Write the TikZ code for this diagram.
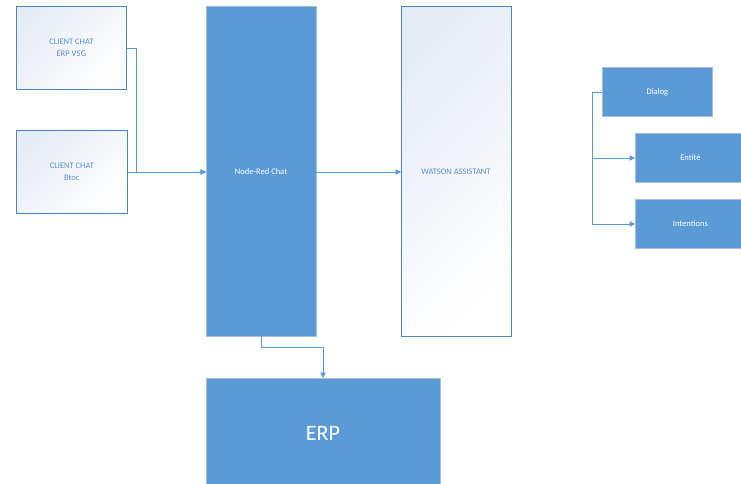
\documentclass[tikz,border=0pt]{standalone}
\usepackage{fontspec}
\setmainfont{Carlito}
\usetikzlibrary{arrows.meta,shadows}
\definecolor{bluefill}{HTML}{5B9BD5}
\definecolor{blueedge}{HTML}{A9BCD3}
\definecolor{lightedge}{HTML}{4A86C6}
\definecolor{lighttop}{HTML}{E6ECF6}
\definecolor{lighttext}{HTML}{5B8FCB}
\definecolor{wire}{HTML}{5B9BD5}
\tikzset{
  lightbox/.style={draw=lightedge, line width=0.7pt, top color=lighttop, bottom color=white, shading angle=45,
    anchor=north west, inner sep=0pt, align=center, text=lighttext, font=\fontsize{8.5}{12}\selectfont},
  darkbox/.style={draw=blueedge, line width=0.8pt, fill=bluefill, anchor=north west, inner sep=0pt,
    align=center, text=white, font=\fontsize{8.5}{12}\selectfont,
    drop shadow={shadow xshift=1pt, shadow yshift=-1pt, opacity=0.15}},
  wire/.style={draw=wire, line width=0.8pt},
  arr/.style={wire, -{Triangle[length=5.5pt,width=5.5pt]}},
}
\begin{document}
\begin{tikzpicture}[x=1pt,y=-1pt]
\useasboundingbox (0,0) rectangle (741,483);
\clip (0,0) rectangle (741,483);
\node[lightbox, minimum width=110pt, minimum height=83pt] (erpv) at (16,6) {CLIENT CHAT\\ERP V5G};
\node[lightbox, minimum width=111pt, minimum height=83pt] (btoc) at (16,130) {CLIENT CHAT\\Btoc};
\node[darkbox, minimum width=110pt, minimum height=330pt] (nr) at (206,6) {};
\node[lightbox, minimum width=110pt, minimum height=330pt] (wa) at (401,6) {};
\node[text=white, font=\fontsize{8.5}{12}\selectfont] at (261,172) {Node-Red Chat};
\node[text=lighttext, font=\fontsize{8.5}{12}\selectfont] at (456,172) {WATSON ASSISTANT};
\node[darkbox, minimum width=234pt, minimum height=130pt] (erp) at (206,378) {};
\node[text=white, font=\fontsize{22}{26}\selectfont] at (323,433) {ERP};
\node[darkbox, minimum width=110pt, minimum height=49pt] (dia) at (602,67) {Dialog};
\node[darkbox, minimum width=110pt, minimum height=49pt] (ent) at (635,133) {Entité};
\node[darkbox, minimum width=110pt, minimum height=49pt] (int) at (635,199) {Intentions};
\coordinate (nrin) at (206,172);
\coordinate (wain) at (401,172);
\coordinate (nrout) at (316,172);
\coordinate (nrbot) at (261,336);
\coordinate (erptop) at (323,378);
\coordinate (entin) at (635,158);
\coordinate (intin) at (635,224);
\coordinate (dial) at (602,92);
\draw[arr] (erpv.east |- 0,48) -- (136,48) -- (136,172) -- (nrin);
\draw[arr] (btoc.east |- nrin) -- (nrin);
\draw[arr] (nrout) -- (wain);
\draw[arr] (nrbot) -- (261,347) -- (323,347) -- (erptop);
\draw[wire] (dial) -- (592,92) -- (592,224);
\draw[arr] (592,158) -- (entin);
\draw[arr] (592,224) -- (intin);
\end{tikzpicture}
\end{document}
